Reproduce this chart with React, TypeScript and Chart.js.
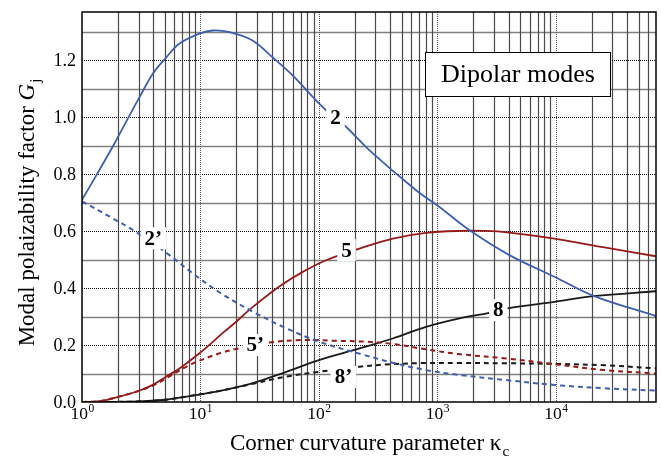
import React, { useEffect, useRef } from "react";
import { Chart, registerables } from "chart.js";

Chart.register(...registerables);

// ---- axes ----
const xMin = 1;
const xMax = 70000;
const yMin = 0;
const yMax = 1.37;
const yMajorTicks = [0, 0.2, 0.4, 0.6, 0.8, 1.0, 1.2];
const yMinorTicks = [0.1, 0.3, 0.5, 0.7, 0.9, 1.1, 1.3];
const yTickLabels = ["0.0", "0.2", "0.4", "0.6", "0.8", "1.0", "1.2"];
const xDecadeExponents = [0, 1, 2, 3, 4];
const xDecadeLabels = ["0", "1", "2", "3", "4"];

// ---- series: mode 2 (solid) ----
const kappa2 = [1, 1.32, 1.88, 2.52, 3.06, 3.96, 5.13, 6.65, 9.8, 12.7, 17.6, 27.5, 40.8, 60, 89, 115, 170, 267, 661, 1040, 1860, 4050, 9700, 21000, 70000];
const g2 = [0.71, 0.796, 0.908, 1.007, 1.071, 1.153, 1.21, 1.259, 1.294, 1.305, 1.299, 1.27, 1.21, 1.147, 1.071, 1.025, 0.966, 0.884, 0.744, 0.685, 0.604, 0.516, 0.44, 0.372, 0.302];

// ---- mode 2' (dashed) ----
const kappa2p = [1, 1.82, 2.77, 5.47, 8.6, 15, 27.7, 53, 100, 242, 420, 800, 1540, 3800, 9700, 25700, 70000];
const g2p = [0.705, 0.645, 0.601, 0.516, 0.452, 0.381, 0.317, 0.259, 0.212, 0.165, 0.138, 0.112, 0.095, 0.077, 0.06, 0.048, 0.04];

// ---- mode 5 (solid) ----
const kappa5 = [1, 1.4, 1.82, 2.87, 3.96, 5.13, 6.65, 9.8, 15.9, 20, 27.7, 46, 73, 115, 220, 420, 800, 1540, 2590, 4050, 9700, 25700, 70000];
const g5 = [0, 0.003, 0.013, 0.036, 0.06, 0.089, 0.118, 0.171, 0.247, 0.282, 0.334, 0.405, 0.457, 0.498, 0.539, 0.574, 0.594, 0.601, 0.601, 0.595, 0.574, 0.543, 0.512];

// ---- mode 5' (dashed) ----
const kappa5p = [1, 1.4, 1.82, 2.87, 3.96, 4.8, 8.1, 14.5, 21, 38, 73, 140, 242, 420, 800, 1540, 3800, 9700, 25700, 70000];
const g5p = [0, 0.003, 0.013, 0.036, 0.058, 0.076, 0.13, 0.171, 0.188, 0.209, 0.218, 0.215, 0.212, 0.204, 0.185, 0.168, 0.153, 0.133, 0.112, 0.1];

// ---- mode 8 (solid) ----
const kappa8 = [1, 2.5, 4.8, 8.1, 15, 27.7, 53, 100, 220, 420, 800, 1540, 2750, 3900, 9700, 21000, 70000];
const g8 = [0, 0.001, 0.007, 0.021, 0.04, 0.066, 0.106, 0.147, 0.188, 0.223, 0.264, 0.294, 0.313, 0.329, 0.352, 0.372, 0.389];

// ---- mode 8' (dashed) ----
const kappa8p = [1, 2.5, 4.8, 8.1, 15, 27.7, 53, 100, 220, 420, 800, 1540, 3800, 9700, 25700, 70000];
const g8p = [0, 0.001, 0.007, 0.021, 0.04, 0.064, 0.089, 0.106, 0.124, 0.133, 0.137, 0.137, 0.136, 0.134, 0.129, 0.118];

// ---- curve labels ----
const labelTexts = ["2", "2\u2019", "5", "5\u2019", "8", "8\u2019"];
const labelKappa = [138, 4.0, 171, 29, 3270, 161];
const labelG = [1.0, 0.575, 0.533, 0.2, 0.323, 0.088];

const boxText = "Dipolar modes";
const xTitle = "Corner curvature parameter \u03ba";
const xTitleSub = "c";
const yTitle = "Modal polaizability factor ";
const yTitleItalic = "G";
const yTitleSub = "j";

const BLUE = "#3d5fae";
const RED = "#961a1a";
const BLACK = "#1a1a1a";
const FONT = '"Liberation Serif", "Times New Roman", serif';

function pts(xs: number[], ys: number[]) {
  return xs.map((x, i) => ({ x, y: ys[i] }));
}

const decorPlugin = {
  id: "decor",
  beforeDatasetsDraw(chart: any) {
    const { ctx, chartArea: a, scales } = chart;
    const xs = scales.x;
    const ys = scales.y;
    ctx.save();
    // horizontal minor (solid gray)
    ctx.strokeStyle = "#808080";
    ctx.lineWidth = 1.6;
    ctx.setLineDash([]);
    for (const v of yMinorTicks) {
      const y = Math.round(ys.getPixelForValue(v)) + 0.5;
      ctx.beginPath();
      ctx.moveTo(a.left, y);
      ctx.lineTo(a.right, y);
      ctx.stroke();
    }
    // vertical minor (solid)
    ctx.strokeStyle = "#4a4a4a";
    ctx.lineWidth = 1.2;
    for (const e of xDecadeExponents) {
      for (let m = 2; m <= 9; m++) {
        const v = m * Math.pow(10, e);
        if (v >= xMax) continue;
        const x = Math.round(xs.getPixelForValue(v)) + 0.5;
        ctx.beginPath();
        ctx.moveTo(x, a.top);
        ctx.lineTo(x, a.bottom);
        ctx.stroke();
      }
    }
    // horizontal major (dotted black)
    ctx.strokeStyle = "#000";
    ctx.lineWidth = 1;
    ctx.setLineDash([1, 1]);
    for (const v of yMajorTicks) {
      if (v === 0) continue;
      const y = Math.round(ys.getPixelForValue(v)) + 0.5;
      ctx.beginPath();
      ctx.moveTo(a.left, y);
      ctx.lineTo(a.right, y);
      ctx.stroke();
    }
    // vertical decades (dotted gray)
    ctx.strokeStyle = "#555";
    for (const e of xDecadeExponents) {
      if (e === 0) continue;
      const x = Math.round(xs.getPixelForValue(Math.pow(10, e))) + 0.5;
      ctx.beginPath();
      ctx.moveTo(x, a.top);
      ctx.lineTo(x, a.bottom);
      ctx.stroke();
    }
    ctx.restore();
  },
  afterDatasetsDraw(chart: any) {
    const { ctx, chartArea: a, scales } = chart;
    const xs = scales.x;
    const ys = scales.y;
    ctx.save();
    ctx.setLineDash([]);
    // curve labels
    ctx.font = `bold 21px ${FONT}`;
    ctx.textAlign = "center";
    ctx.textBaseline = "middle";
    labelTexts.forEach((t, i) => {
      const px = xs.getPixelForValue(labelKappa[i]);
      const py = ys.getPixelForValue(labelG[i]);
      const w = ctx.measureText(t).width;
      ctx.fillStyle = "#fff";
      ctx.fillRect(px - w / 2 - 4, py - 11, w + 8, 22);
      ctx.fillStyle = "#000";
      ctx.fillText(t, px, py + 1);
    });
    // legend-like box
    const bx = 425.5, by = 52.5, bw = 185, bh = 44;
    ctx.fillStyle = "#fff";
    ctx.fillRect(bx, by, bw, bh);
    ctx.strokeStyle = "#000";
    ctx.lineWidth = 1;
    ctx.strokeRect(bx, by, bw, bh);
    ctx.fillStyle = "#000";
    ctx.font = `26px ${FONT}`;
    ctx.fillText(boxText, bx + bw / 2, by + bh / 2 + 1);

    // border
    ctx.strokeStyle = "#000";
    ctx.lineWidth = 1.5;
    ctx.strokeRect(a.left, a.top, a.right - a.left, a.bottom - a.top);

    // y tick labels
    ctx.font = `18px ${FONT}`;
    ctx.textAlign = "right";
    ctx.textBaseline = "middle";
    yMajorTicks.forEach((v, i) => {
      ctx.fillText(yTickLabels[i], 76, ys.getPixelForValue(v) + 1);
    });
    // x tick labels 10^n
    ctx.textBaseline = "alphabetic";
    ctx.textAlign = "left";
    xDecadeExponents.forEach((e, i) => {
      const px = xs.getPixelForValue(Math.pow(10, e));
      ctx.font = `17.5px ${FONT}`;
      const wb = ctx.measureText("10").width;
      ctx.font = `11.5px ${FONT}`;
      const we = ctx.measureText(xDecadeLabels[i]).width;
      const x0 = px - (wb + we) / 2;
      ctx.font = `17.5px ${FONT}`;
      ctx.fillText("10", x0, a.bottom + 17);
      ctx.font = `11.5px ${FONT}`;
      ctx.fillText(xDecadeLabels[i], x0 + wb + 0.5, a.bottom + 10);
    });

    // x title
    ctx.font = `23px ${FONT}`;
    const w1 = ctx.measureText(xTitle).width;
    ctx.font = `15px ${FONT}`;
    const w2 = ctx.measureText(xTitleSub).width;
    const cx = (a.left + a.right) / 2;
    const tx0 = cx - (w1 + w2) / 2;
    ctx.font = `23px ${FONT}`;
    ctx.fillText(xTitle, tx0, 450);
    ctx.font = `15px ${FONT}`;
    ctx.fillText(xTitleSub, tx0 + w1 + 1, 456);

    // y title (rotated)
    ctx.save();
    ctx.translate(34, 213);
    ctx.rotate(-Math.PI / 2);
    ctx.font = `23px ${FONT}`;
    const v1 = ctx.measureText(yTitle).width;
    ctx.font = `italic 23px ${FONT}`;
    const v2 = ctx.measureText(yTitleItalic).width;
    ctx.font = `15px ${FONT}`;
    const v3 = ctx.measureText(yTitleSub).width;
    const s0 = -(v1 + v2 + v3) / 2;
    ctx.font = `23px ${FONT}`;
    ctx.fillText(yTitle, s0, 0);
    ctx.font = `italic 23px ${FONT}`;
    ctx.fillText(yTitleItalic, s0 + v1, 0);
    ctx.font = `15px ${FONT}`;
    ctx.fillText(yTitleSub, s0 + v1 + v2 + 1, 6);
    ctx.restore();

    ctx.restore();
  },
};

export default function App() {
  const ref = useRef<HTMLCanvasElement | null>(null);
  useEffect(() => {
    if (!ref.current) return;
    const solid = (data: any, color: string) => ({
      data,
      borderColor: color,
      borderWidth: 1.8,
      pointRadius: 0,
      fill: false,
      tension: 0.35,
    });
    const dashed = (data: any, color: string) => ({
      data,
      borderColor: color,
      borderWidth: 2,
      borderDash: [5, 4],
      pointRadius: 0,
      fill: false,
      tension: 0.35,
    });
    const chart = new Chart(ref.current, {
      type: "line",
      data: {
        datasets: [
          dashed(pts(kappa2p, g2p), BLUE),
          dashed(pts(kappa5p, g5p), RED),
          dashed(pts(kappa8p, g8p), BLACK),
          solid(pts(kappa2, g2), BLUE),
          solid(pts(kappa5, g5), RED),
          solid(pts(kappa8, g8), BLACK),
        ],
      },
      options: {
        responsive: false,
        animation: false,
        parsing: true,
        layout: { padding: { left: 82, right: 5, top: 12, bottom: 58 } },
        plugins: { legend: { display: false }, tooltip: { enabled: false } },
        scales: {
          x: { type: "logarithmic", min: xMin, max: xMax, display: false },
          y: { type: "linear", min: yMin, max: yMax, display: false },
        },
      },
      plugins: [decorPlugin],
    });
    return () => chart.destroy();
  }, []);
  return (
    <div style={{ position: "absolute", left: 0, top: 0, width: 661, height: 460, background: "#fff" }}>
      <canvas ref={ref} width={661} height={460} style={{ display: "block" }} />
    </div>
  );
}
